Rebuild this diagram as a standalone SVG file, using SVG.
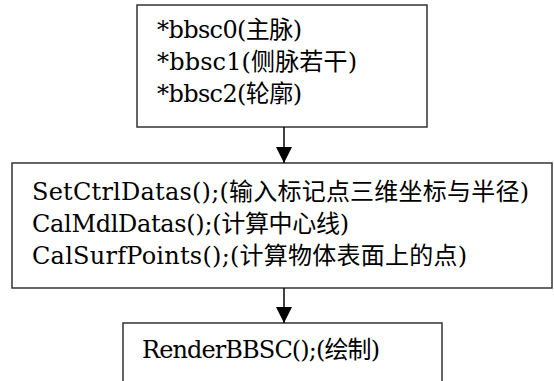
<svg xmlns="http://www.w3.org/2000/svg" width="554" height="381" viewBox="0 0 554 381">
<style>
.box{fill:#fff;stroke:#333;stroke-width:1.5}
.t{font-family:"DejaVu Serif","Noto Sans CJK SC",serif;font-size:24px;fill:#000}
.c{stroke:#000;stroke-width:1.5;fill:none}
</style>
<defs>
<marker id="ah" markerUnits="userSpaceOnUse" markerWidth="16" markerHeight="17" refX="16" refY="8" orient="auto"><path d="M0,0 L16,8 L0,16 Z" fill="#000"/></marker>
</defs>
<g id="node1">
<rect class="box" x="137" y="5" width="290" height="122"/>
<text class="t" x="157" y="38" textLength="145" lengthAdjust="spacing">*bbsc0(主脉)</text>
<text class="t" x="157" y="70" textLength="200" lengthAdjust="spacing">*bbsc1(侧脉若干)</text>
<text class="t" x="157" y="102" textLength="145" lengthAdjust="spacing">*bbsc2(轮廓)</text>
</g>
<g id="node2">
<rect class="box" x="12" y="163" width="540" height="125"/>
<text class="t" x="32" y="200" textLength="497" lengthAdjust="spacing">SetCtrlDatas();(输入标记点三维坐标与半径)</text>
<text class="t" x="32" y="232" textLength="317" lengthAdjust="spacing">CalMdlDatas();(计算中心线)</text>
<text class="t" x="32" y="264" textLength="435" lengthAdjust="spacing">CalSurfPoints();(计算物体表面上的点)</text>
</g>
<g id="node3">
<rect class="box" x="123" y="323" width="319" height="90"/>
<text class="t" x="142" y="358" textLength="238" lengthAdjust="spacing">RenderBBSC();(绘制)</text>
</g>
<g id="connectors">
<line class="c" x1="284" y1="127" x2="284" y2="163" marker-end="url(#ah)"/>
<line class="c" x1="284" y1="288" x2="284" y2="323" marker-end="url(#ah)"/>
</g>
</svg>
